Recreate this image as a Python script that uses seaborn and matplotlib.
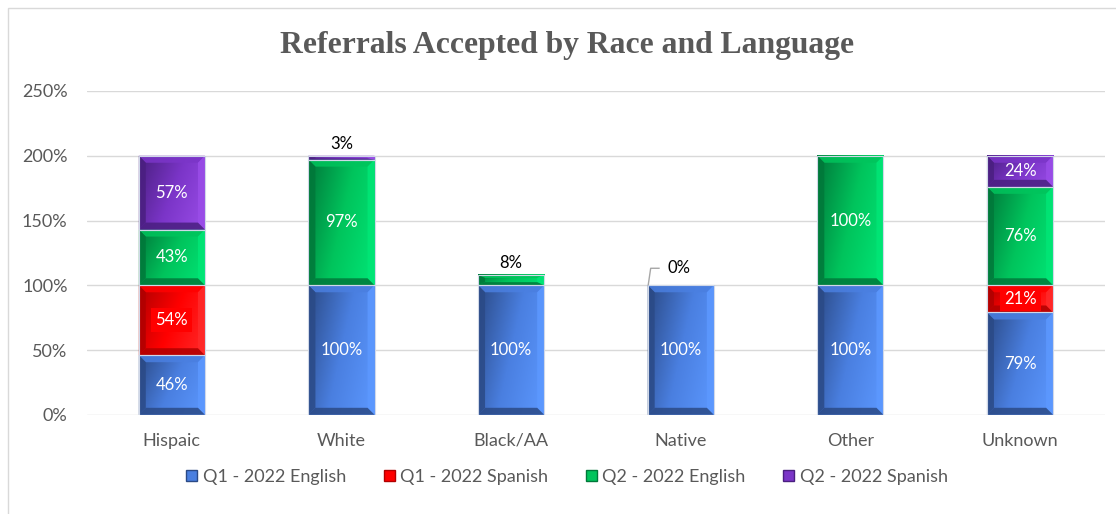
import numpy as np
import pandas as pd
import matplotlib
matplotlib.use("Agg")
import matplotlib.pyplot as plt
from matplotlib.colors import LinearSegmentedColormap
from matplotlib.patches import Polygon, Patch, Rectangle
import seaborn as sns

categories = ["Hispaic", "White", "Black/AA", "Native", "Other", "Unknown"]
series_names = ["Q1 - 2022 English", "Q1 - 2022 Spanish", "Q2 - 2022 English", "Q2 - 2022 Spanish"]
q1_english = [46, 100, 100, 100, 100, 79]
q1_spanish = [54, 0, 0, 0, 0, 21]
q2_english = [43, 97, 8, 0, 100, 76]
q2_spanish = [57, 3, 0, 0, 0, 24]
y_ticks = [0, 50, 100, 150, 200, 250]

series_values = [q1_english, q1_spanish, q2_english, q2_spanish]
# (dark, mid, light) shades for each series
palette = [
    ("#2b4a86", "#4a7fe0", "#5c98ff"),
    ("#b00000", "#ff0000", "#ff2a2a"),
    ("#00783a", "#00c45c", "#00e676"),
    ("#4a1f80", "#7b35c8", "#9a4de8"),
]

sns.set_theme(style="white")
plt.rcParams["font.family"] = ["Lato", "DejaVu Sans"]

fig = plt.figure(figsize=(11.16, 5.14), dpi=100)
ax = fig.add_axes([0.078, 0.193, 0.912, 0.630])

# chart frame
fig.patches.append(Rectangle((8 / 1116, -0.05), 1.2, 1 - 8 / 514 + 0.05,
                             transform=fig.transFigure, fill=False,
                             edgecolor="#d9d9d9", linewidth=1.0, zorder=0))

bar_width = 0.39
bottom = np.zeros(len(categories))
containers = []
for name, vals, cols in zip(series_names, series_values, palette):
    df = pd.DataFrame({"cat": categories, "val": vals})
    sns.barplot(data=df, x="cat", y="val", order=categories, bottom=bottom.copy(),
                color=cols[1], saturation=1, width=bar_width, ax=ax,
                edgecolor="none", linewidth=0, zorder=2, errorbar=None)
    containers.append(ax.containers[-1])
    bottom = bottom + np.array(vals)

for cont in containers:
    for p in cont.patches:
        if p.get_height() <= 0:
            p.set_visible(False)

ax.set_xlim(-0.5, len(categories) - 0.5)
ax.set_ylim(0, 250)

px_x = (len(categories)) / (0.912 * 1116)
px_y = 250 / (0.630 * 514)


def bevel(patch, cols):
    x0, y0 = patch.get_x(), patch.get_y()
    w, h = patch.get_width(), patch.get_height()
    if h <= 0:
        return
    dark, mid, light = cols
    cmap = LinearSegmentedColormap.from_list("b", [dark, mid, light])
    u = np.linspace(0, 1, 60)[None, :]
    v = np.linspace(0, 1, 60)[:, None]
    grad = 0.7 * u + 0.3 * v
    ax.imshow(grad, extent=[x0, x0 + w, y0, y0 + h], origin="upper",
              cmap=cmap, aspect="auto", interpolation="bilinear", zorder=2.5)
    bx = min(7 * px_x, w * 0.2)
    by = min(7 * px_y, h * 0.3)
    X0, X1, Y0, Y1 = x0, x0 + w, y0, y0 + h
    frames = [
        ([(X0, Y1), (X1, Y1), (X1 - bx, Y1 - by), (X0 + bx, Y1 - by)], mid),
        ([(X1, Y1), (X1, Y0), (X1 - bx, Y0 + by), (X1 - bx, Y1 - by)], light),
        ([(X0, Y0), (X1, Y0), (X1 - bx, Y0 + by), (X0 + bx, Y0 + by)], dark),
        ([(X0, Y0), (X0, Y1), (X0 + bx, Y1 - by), (X0 + bx, Y0 + by)], dark),
    ]
    for pts, c in frames:
        ax.add_patch(Polygon(pts, closed=True, facecolor=c, edgecolor="none",
                             alpha=0.85, zorder=2.6))
    ax.add_patch(Rectangle((x0, y0), w, h, fill=False, edgecolor="#d0d8e8",
                           linewidth=0.8, zorder=2.7))


for cont, cols in zip(containers, palette):
    for p in cont.patches:
        bevel(p, cols)

# value labels
for si, (cont, vals) in enumerate(zip(containers, series_values)):
    for ci, (p, v) in enumerate(zip(cont.patches, vals)):
        cx = p.get_x() + p.get_width() / 2
        if v >= 15:
            kw = {}
            if si == 1:
                kw["bbox"] = dict(boxstyle="square,pad=0.25", facecolor="#ff0000",
                                  edgecolor="none")
            ax.text(cx, p.get_y() + p.get_height() / 2, f"{v}%", ha="center",
                    va="center", color="white", fontsize=12, zorder=5, **kw)
        elif v > 0 and si >= 2:
            ax.annotate(f"{v}%", xy=(cx, p.get_y() + p.get_height()),
                        xytext=(0, 3), textcoords="offset points", ha="center",
                        va="bottom", color="black", fontsize=12, zorder=5)

# zero-value label with leader line on Native
native_i = categories.index("Native")
p = containers[2].patches[native_i]
top = p.get_y()
lx = p.get_x()
ax.plot([lx + 0.5 * px_x, lx + 3 * px_x, lx + 12 * px_x],
        [top, top + 17 * px_y, top + 17 * px_y], color="#a6a6a6", linewidth=1.0,
        zorder=5, solid_capstyle="butt")
ax.text(lx + 20 * px_x, top + 17 * px_y, f"{q2_english[native_i]}%", ha="left",
        va="center", color="black", fontsize=12, zorder=5)

ax.set_yticks(y_ticks)
ax.set_yticklabels([f"{t}%" for t in y_ticks])
ax.yaxis.grid(True, color="#d9d9d9", linewidth=1.0)
ax.set_axisbelow(True)
for s in ax.spines.values():
    s.set_visible(False)
ax.tick_params(axis="both", length=0, colors="#595959", labelsize=13)
ax.tick_params(axis="x", pad=13)
ax.tick_params(axis="y", pad=14)
ax.set_xlabel("")
ax.set_ylabel("")

fig.text(0.508, 1 - 46 / 514, "Referrals Accepted by Race and Language",
         ha="center", va="center", fontsize=22.8, fontweight="bold",
         color="#595959", family=["Liberation Serif", "DejaVu Serif"])

handles = [Patch(facecolor=c[1], edgecolor=c[0], linewidth=1.0) for c in palette]
fig.legend(handles, series_names, loc="center", ncol=4,
           bbox_to_anchor=(0.508, 1 - 477 / 514), frameon=False,
           fontsize=13, labelcolor="#595959", handlelength=0.6,
           handleheight=0.6, handletextpad=0.3, columnspacing=2.1)

fig.savefig("out.png", dpi=100, facecolor="white")
